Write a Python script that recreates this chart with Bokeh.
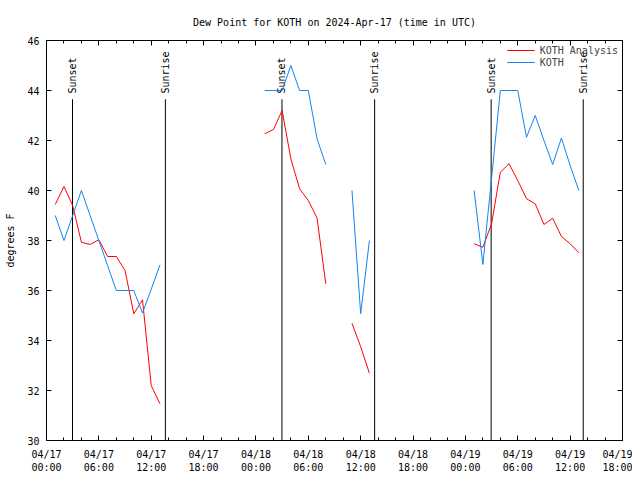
import numpy as np
from bokeh.plotting import figure
from bokeh.models import (LinearAxis, FixedTicker, Range1d, Legend, LegendItem,
                          ColumnDataSource)
from bokeh.core.properties import value
from bokeh.embed import file_html
from bokeh.resources import INLINE

nan = np.nan

# hours since 2024-04-17 00:00 UTC (NaN = gap)
hours = [1, 2, 3, 4, 5, 6, 7, 8, 9, 10, 11, 12, 13, nan,
         25, 26, 27, 28, 29, 30, 31, 32, nan,
         35, 36, 37, nan,
         49, 50, 51, 52, 53, 54, 55, 56, 57, 58, 59, 60, 61]

analysis = [39.44, 40.16, 39.4, 37.93, 37.84, 38.03, 37.36, 37.36, 36.8, 35.07, 35.63, 32.2, 31.47, nan,
            42.27, 42.44, 43.2, 41.27, 40.07, 39.6, 38.9, 36.27, nan,
            34.69, 33.75, 32.69, nan,
            37.87, 37.73, 38.67, 40.73, 41.07, 40.4, 39.67, 39.47, 38.64, 38.89, 38.16, 37.87, 37.51]

observed = [39.0, 38.0, 39.0, 40.0, 39.0, 38.0, 37.0, 36.0, 36.0, 36.0, 35.1, 36.05, 37.03, nan,
            44.0, 44.0, 44.0, 45.0, 44.0, 44.0, 42.07, 41.04, nan,
            40.0, 35.07, 38.0, nan,
            40.0, 37.04, 40.5, 44.0, 44.0, 44.0, 42.13, 43.0, 42.0, 41.04, 42.1, 41.0, 40.0]

event_hours = [2.98, 13.62, 26.98, 37.6, 50.95, 61.5]
event_labels = ["Sunset", "Sunrise", "Sunset", "Sunrise", "Sunset", "Sunrise"]

xtick_values = [0, 6, 12, 18, 24, 30, 36, 42, 48, 54, 60, 66]
xtick_labels = ["04/17\n00:00", "04/17\n06:00", "04/17\n12:00", "04/17\n18:00",
                "04/18\n00:00", "04/18\n06:00", "04/18\n12:00", "04/18\n18:00",
                "04/19\n00:00", "04/19\n06:00", "04/19\n12:00", "04/19\n18:00"]
ytick_values = [30, 32, 34, 36, 38, 40, 42, 44, 46]

FONT = "DejaVu Sans Mono"
FS = "10px"

p = figure(width=632, height=475, x_range=Range1d(0, 66), y_range=Range1d(30, 46),
           output_backend="svg", toolbar_location=None,
           min_border_left=46, min_border_right=10, min_border_top=40, min_border_bottom=32)
p.outline_line_color = "black"
p.grid.visible = False
p.background_fill_color = "white"

p.title.text = "Dew Point for KOTH on 2024-Apr-17 (time in UTC)"
p.title.align = "center"
p.title.text_font = FONT
p.title.text_font_size = FS
p.title.text_font_style = "normal"
p.title.text_color = "black"
p.title.standoff = 25

xticker = FixedTicker(ticks=xtick_values, minor_ticks=list(range(0, 67, 2)))
yticker = FixedTicker(ticks=ytick_values, minor_ticks=[])

def style_axis(ax, labels=True):
    ax.axis_line_color = "black"
    ax.major_tick_line_color = "black"
    ax.minor_tick_line_color = "black"
    ax.major_tick_in = 5
    ax.major_tick_out = 0
    ax.minor_tick_in = 3
    ax.minor_tick_out = 0
    ax.major_label_text_font = FONT
    ax.major_label_text_font_size = FS if labels else "0px"
    ax.major_label_text_color = "black"
    ax.axis_label_text_font = FONT
    ax.axis_label_text_font_size = FS
    ax.axis_label_text_font_style = "normal"
    ax.axis_label_text_color = "black"

xa = p.xaxis[0]
xa.ticker = xticker
xa.major_label_overrides = {v: l for v, l in zip(xtick_values, xtick_labels)}
xa.major_label_standoff = 8
xa.major_label_text_line_height = 1.2
style_axis(xa)

ya = p.yaxis[0]
ya.ticker = yticker
ya.axis_label = "degrees F"
ya.major_label_standoff = 7
ya.axis_label_standoff = 8
style_axis(ya)

top = LinearAxis(ticker=xticker, major_label_standoff=0)
style_axis(top, labels=False)
top.major_label_overrides = {v: "" for v in xtick_values}
p.add_layout(top, "above")

right = LinearAxis(ticker=yticker, major_label_standoff=0)
style_axis(right, labels=False)
right.major_label_overrides = {v: "" for v in ytick_values}
p.add_layout(right, "right")

# sunrise / sunset markers
ev = ColumnDataSource(dict(x=event_hours, y0=[30] * len(event_hours),
                           y1=[43.65] * len(event_hours), ty=[43.88] * len(event_hours),
                           t=event_labels))
p.segment(x0="x", y0="y0", x1="x", y1="y1", source=ev, line_color="black", line_width=1)
p.text(x="x", y="ty", text="t", source=ev, angle=np.pi / 2, text_align="left",
       text_baseline="middle", text_font=value(FONT), text_font_size=FS, text_color="black")

src = ColumnDataSource(dict(h=hours, a=analysis, o=observed))
r_a = p.line("h", "a", source=src, line_color="#ff0000", line_width=1)
r_o = p.line("h", "o", source=src, line_color="#1484f0", line_width=1)

legend = Legend(items=[LegendItem(label="KOTH Analysis", renderers=[r_a]),
                       LegendItem(label="KOTH", renderers=[r_o])],
                location="top_right", background_fill_alpha=0, border_line_alpha=0,
                label_text_font=FONT, label_text_font_size=FS, glyph_width=28,
                glyph_height=12, label_height=12, spacing=0, padding=2, margin=2)
p.add_layout(legend)

open("out.html", "w").write(file_html(p, INLINE))
